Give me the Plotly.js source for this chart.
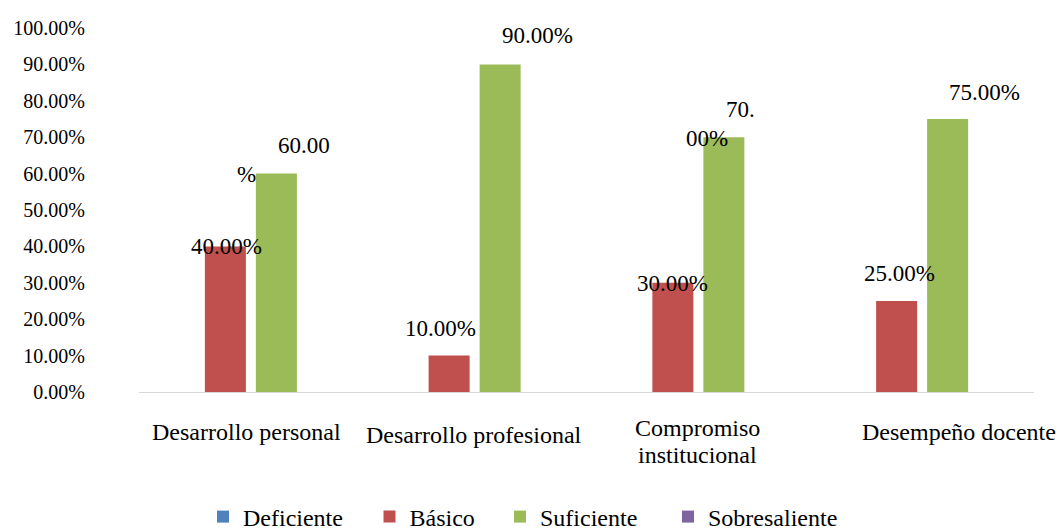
<!DOCTYPE html>
<html>
<head>
<meta charset="utf-8">
<script src="https://cdn.plot.ly/plotly-3.0.1.min.js"></script>
<style>html,body{margin:0;padding:0;background:#fff;}#chart{width:1061px;height:530px;}</style>
</head>
<body>
<div id="chart"></div>
<script>
// ---- data ----
const categories = ['Desarrollo personal', 'Desarrollo profesional', 'Compromiso institucional', 'Desempeño docente'];
const seriesNames = ['Deficiente', 'Básico', 'Suficiente', 'Sobresaliente'];
const deficiente = [0, 0, 0, 0];
const basico = [0.40, 0.10, 0.30, 0.25];
const suficiente = [0.60, 0.90, 0.70, 0.75];
const sobresaliente = [0, 0, 0, 0];
const yTickValues = [0, 0.1, 0.2, 0.3, 0.4, 0.5, 0.6, 0.7, 0.8, 0.9, 1.0];

// ---- styles ----
const FONT = '"Liberation Serif", "Times New Roman", Times, serif';
const colors = ['#4F81BD', '#C0504D', '#9BBB59', '#8064A2'];
const showLabels = [false, true, true, false];
// label offsets (px) from the bar's top centre; split = cut the label text into two pieces
const labelStyles = [
  null,
  [{dx: 1, dy: 0}, {dx: -8.5, dy: -27}, {dx: 0, dy: 0.5}, {dx: 2.5, dy: -28}],
  [{split: 5, parts: [{dx: 27.5, dy: -28}, {dx: -29.5, dy: 0.5}]},
   {dx: 37, dy: -28.5},
   {split: 3, parts: [{dx: 16.5, dy: -28}, {dx: -16.5, dy: 1}]},
   {dx: 36.5, dy: -27}],
  null
];
const catLabelStyles = [
  {dx: -4, dy: 0, wrap: false},
  {dx: -0.5, dy: 3, wrap: false},
  {dx: -1, dy: 9, wrap: true},
  {dx: 37, dy: 0, wrap: false}
];
const catLineGap = 27;
// legend entry left edges (container px)
const legendX = [203, 369.5, 500, 668];
const bargap = 0.088, bargroupgap = 0.196;

const allSeries = [deficiente, basico, suficiente, sobresaliente];
const legendIds = ['legend', 'legend2', 'legend3', 'legend4'];
const traces = allSeries.map((vals, i) => ({
  type: 'bar', name: seriesNames[i], x: categories, y: vals,
  marker: {color: colors[i]}, hoverinfo: 'x+y+name', legend: legendIds[i]
}));

const fmt = v => (v * 100).toFixed(2) + '%';
const annotations = [];
const nS = allSeries.length;
allSeries.forEach((vals, i) => {
  if (!showLabels[i]) return;
  const off = (i - (nS - 1) / 2) * (1 - bargap) / nS;
  vals.forEach((v, j) => {
    const st = labelStyles[i][j];
    const txt = fmt(v);
    const pieces = st.split ? [[txt.slice(0, st.split), st.parts[0]], [txt.slice(st.split), st.parts[1]]] : [[txt, st]];
    pieces.forEach(([t, p]) => {
      annotations.push({
        xref: 'x', yref: 'y', x: j + off, y: v, text: t, showarrow: false,
        xanchor: 'center', yanchor: 'middle', xshift: p.dx, yshift: -p.dy,
        font: {family: FONT, size: 23, color: '#000'}
      });
    });
  });
});
categories.forEach((c, j) => {
  const st = catLabelStyles[j];
  const lines = st.wrap ? [c.slice(0, c.indexOf(' ')), c.slice(c.indexOf(' ') + 1)] : [c];
  lines.forEach((ln, k) => {
    annotations.push({
      xref: 'x', yref: 'paper', x: j, y: 0, text: ln, showarrow: false,
      xanchor: 'center', yanchor: 'middle', xshift: st.dx,
      yshift: -(40 + st.dy) - (k - (lines.length - 1) / 2) * catLineGap,
      font: {family: FONT, size: 24, color: '#000'}
    });
  });
});

const layout = {
  width: 1061, height: 530,
  margin: {l: 139, r: 27, t: 28, b: 138},
  paper_bgcolor: '#fff', plot_bgcolor: '#fff',
  barmode: 'group', bargap: bargap, bargroupgap: bargroupgap,
  font: {family: FONT, color: '#000'},
  xaxis: {
    type: 'category', showline: true, linecolor: '#d9d9d9', linewidth: 1,
    ticks: '', showticklabels: false, showgrid: false, zeroline: false,
    range: [-0.5, categories.length - 0.5]
  },
  yaxis: {
    range: [0, 1], tickvals: yTickValues, tickformat: '.2%',
    showgrid: false, zeroline: false, showline: false, ticks: '',
    tickfont: {family: FONT, size: 20, color: '#000'},
    ticklabelstandoff: 53, ticklabelshift: -4.5
  },
  showlegend: true,
  annotations: annotations
};
legendIds.forEach((id, i) => {
  layout[id] = {
    orientation: 'h', xref: 'container', yref: 'container',
    x: legendX[i] / 1061, xanchor: 'left', y: 1 - 517 / 530, yanchor: 'middle',
    font: {family: FONT, size: 24, color: '#000'},
    bgcolor: 'rgba(0,0,0,0)'
  };
});

Plotly.newPlot('chart', traces, layout, {displayModeBar: false, staticPlot: true});
</script>
</body>
</html>
